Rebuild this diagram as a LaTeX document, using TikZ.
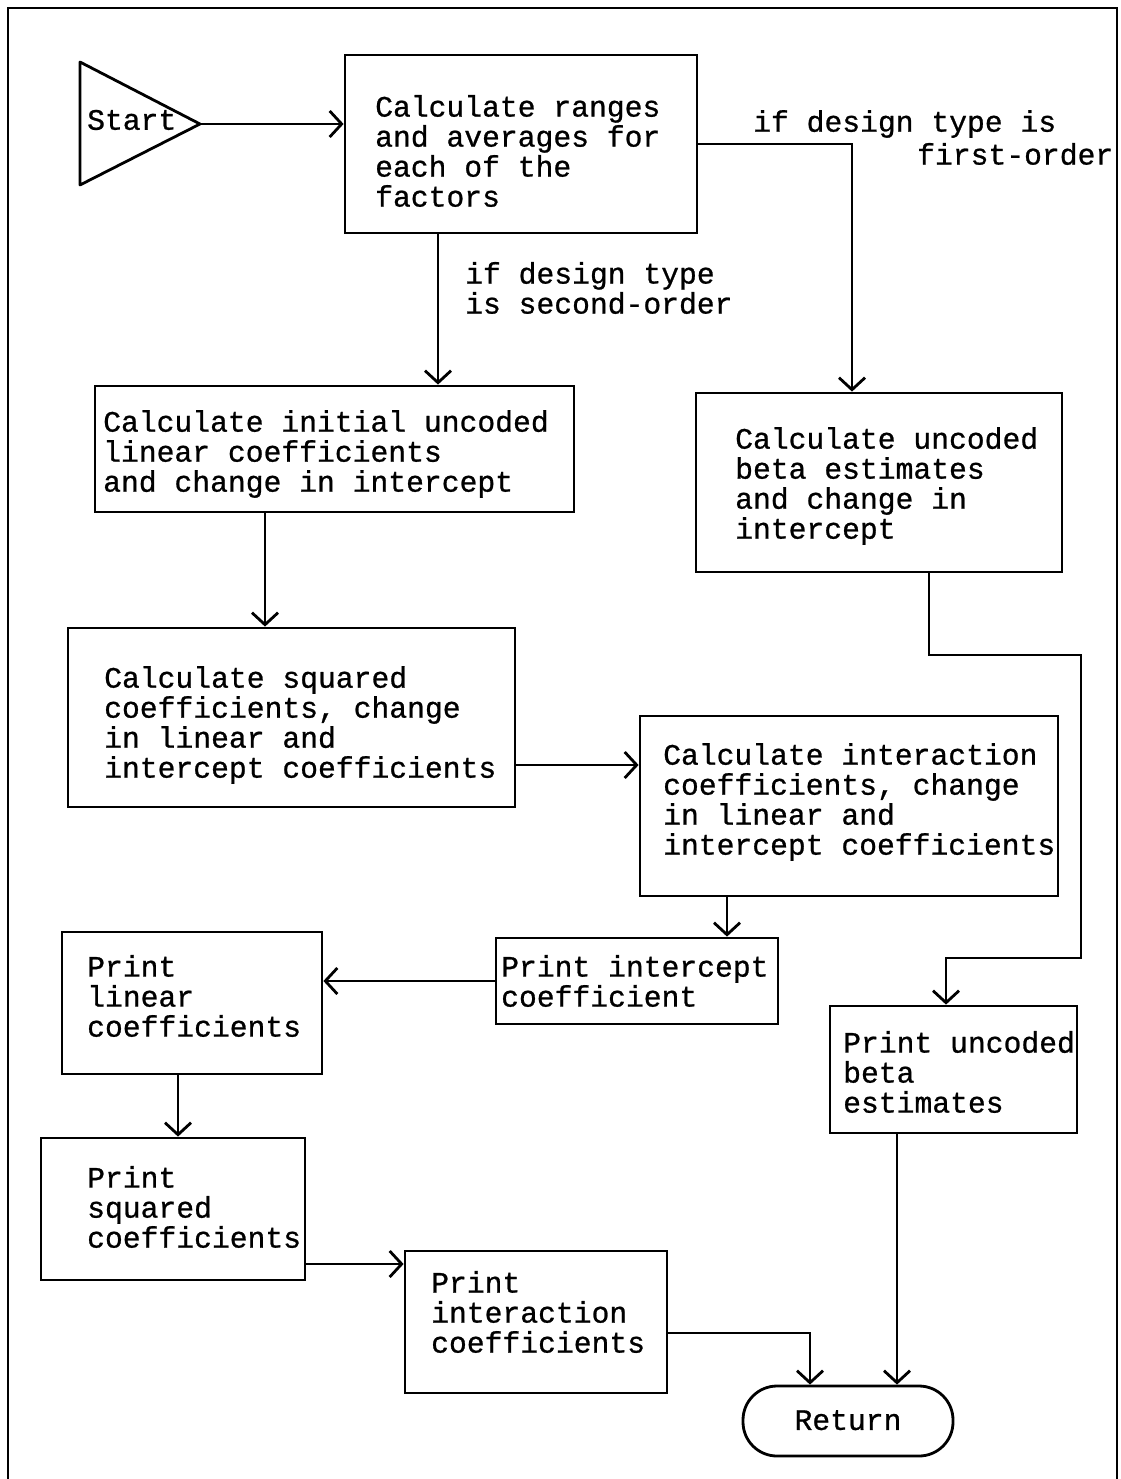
\documentclass[tikz,border=0pt]{standalone}
\usepackage{fontspec}
\setmainfont{Liberation Mono}[FakeBold=0.8,AutoFakeBold=0.8]
\usetikzlibrary{arrows.meta}
\newcommand\mybox[5]{\node[box,minimum width={(#4-#2)*1pt},minimum height={(#5-#3)*1pt}] (#1) at ({(#2+#4)/2},{(#3+#5)/2}) {};}
\begin{document}
\begin{tikzpicture}[x=1pt,y=-1pt,
  box/.style={draw,line width=2.8pt,inner sep=0pt},
  txt/.style={font=\fontsize{29.7}{30}\selectfont\bfseries,align=left,inner sep=0pt,anchor=west},
  arr/.style={line width=2.8pt,-{Straight Barb[length=12pt,width=26pt,line width=2.8pt]}},
  ln/.style={line width=2.8pt}]
\useasboundingbox (0,0) rectangle (1120,1479);
% frame
\draw[line width=2.2pt] (8,1479) -- (8,8) -- (1117,8) -- (1117,1479);
% start triangle
\draw[ln,line join=round] (80,62) -- (80,185) -- (200,124) -- cycle;
\coordinate (S) at (200,124);
\node[txt] (st) at (87,120) {Start};
% boxes
\mybox{A}{345}{55}{697}{233}
\mybox{B}{95}{386}{574}{512}
\mybox{D}{696}{393}{1062}{572}
\mybox{C}{68}{628}{515}{807}
\mybox{E}{640}{716}{1058}{896}
\mybox{F}{496}{938}{778}{1024}
\mybox{G}{62}{932}{322}{1074}
\mybox{H}{41}{1138}{305}{1280}
\mybox{I}{405}{1251}{667}{1393}
\mybox{J}{830}{1006}{1077}{1133}
\node[draw,line width=2.8pt,rounded corners=34pt,minimum width=210pt,minimum height=70pt,inner sep=0pt,font=\fontsize{29.7}{30}\selectfont\bfseries] (R) at (848,1421) {\raisebox{2pt}{Return}};
% texts
\node[txt] (tA) at (375,151) {Calculate ranges\\and averages for\\each of the\\factors};
\node[txt] (tB) at (103,454) {Calculate initial uncoded\\linear coefficients\\and change in intercept};
\node[txt] (tD) at (735,486) {Calculate uncoded\\beta estimates\\and change in\\intercept};
\node[txt] (tC) at (104,725) {Calculate squared\\coefficients, change\\in linear and\\intercept coefficients};
\node[txt] (tE) at (663,802) {Calculate interaction\\coefficients, change\\in linear and\\intercept coefficients};
\node[txt] (tF) at (501,981) {Print intercept\\coefficient};
\node[txt] (tG) at (87,996) {Print\\linear\\coefficients};
\node[txt] (tH) at (87,1207) {Print\\squared\\coefficients};
\node[txt] (tI) at (431,1312) {Print\\interaction\\coefficients};
\node[txt] (tJ) at (843,1072) {Print uncoded\\beta\\estimates};
% labels
\node[txt] (l1) at (753,124) {if design type is};
\node[txt] (l2) at (917,154) {first-order};
\node[txt] (l3) at (465,288) {if design type\\is second-order};
% connectors
\coordinate (k1) at (1081,655);
\coordinate (k2) at (1081,958);
\draw[arr] (S) -- (S -| A.west);
\draw[arr] (A.east) -| ([xshift=-27pt]D.north);
\draw[arr] ([xshift=-83pt]A.south) -- ([xshift=-83pt]A.south |- B.north);
\draw[arr] ([xshift=-69.5pt]B.south) -- ([xshift=-69.5pt]B.south |- C.north);
\draw[arr] ([yshift=-47.5pt]C.east) -- ([yshift=-47.5pt]C.east -| E.west);
\draw[arr] ([xshift=-122pt]E.south) -- ([xshift=-122pt]E.south |- F.north);
\draw[arr] (F.west) -- (F.west -| G.east);
\draw[arr] ([xshift=-14pt]G.south) -- ([xshift=-14pt]G.south |- H.north);
\draw[arr] ([yshift=-55pt]H.east) -- ([yshift=-55pt]H.east -| I.west);
\draw[arr] ([yshift=-11pt]I.east) -| ([xshift=-38pt]R.north);
\draw[arr] ([xshift=50pt]D.south) |- (k1) -- (k2) -| ([xshift=-7.5pt]J.north);
\draw[arr] ([xshift=-56.5pt]J.south) -- ([xshift=-56.5pt]J.south |- R.north);
\end{tikzpicture}
\end{document}
